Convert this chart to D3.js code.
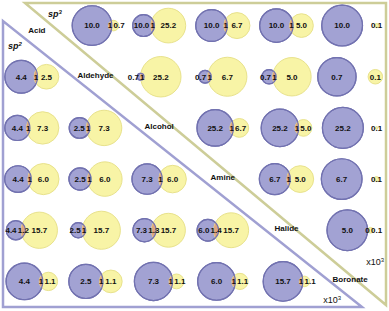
<!DOCTYPE html>
<html>
<head>
<meta charset="utf-8">
<script src="https://d3js.org/d3.v7.min.js"></script>
<style>
    body { margin: 0; background: #fff; }
    svg text {
        font-family: "Liberation Sans", Arial, sans-serif;
        font-weight: bold;
        font-size: 8px;
        fill: #111;
    }
</style>
</head>
<body>
<svg></svg>
<script>
    // data (x10^3)
    var categories = ['Acid', 'Aldehyde', 'Alcohol', 'Amine', 'Halide', 'Boronate'];
    var sp3Counts = [10.0, 0.7, 25.2, 6.7, 5.0, 0.1];
    var sp2Counts = [4.4, 2.5, 7.3, 6.0, 15.7, 1.1];
    // shared counts: sp3 upper triangle by row, sp2 lower triangle by row
    var sp3Overlap = [[1, 1, 1, 1, null], [1, 1, 1, null], [1, 1, null], [1, null], [0]];
    var sp2Overlap = [[1], [1, 1], [1, 1, 1], [1.2, 1, 1.3, 1.4], [1, 1, 1, 1, 1]];

    var width = 389, height = 311;
    var R = 20.5;
    var colors = {
        blue: '#a2a2d3', blueLine: '#7272b0',
        yellow: '#f8f4a6', yellowLine: '#e8e28c',
        lens: '#dfa67e',
        sp2: '#a0a0d2', sp3: '#cdcd98'
    };

    var svg = d3.select('svg')
        .attr('width', width)
        .attr('height', height);

    var x = d3.scaleBand().domain(categories).range([0, 382]);
    var y = d3.scaleBand().domain(categories).range([0, 307]);
    var cx = function (c) { return x(c) + x.bandwidth() / 2; };
    var cy = function (c) { return y(c) + y.bandwidth() / 2; };

    // triangles
    var line = d3.line();
    svg.append('path')
        .attr('d', line([[25, 3], [386, 3], [386, 305]]) + 'Z')
        .attr('fill', 'none')
        .attr('stroke', colors.sp3)
        .attr('stroke-width', 2.5);
    svg.append('path')
        .attr('d', line([[3, 21], [3, 307], [362, 307]]) + 'Z')
        .attr('fill', 'none')
        .attr('stroke', colors.sp2)
        .attr('stroke-width', 2.5);

    // cells
    var cells = [];
    categories.forEach(function (a, i) {
        categories.forEach(function (b, j) {
            if (j <= i) return;
            cells.push({ row: a, col: b, left: sp3Counts[i], right: sp3Counts[j], overlap: sp3Overlap[i][j - i - 1], id: 'u' + i + j });
            cells.push({ row: b, col: a, left: sp2Counts[i], right: sp2Counts[j], overlap: sp2Overlap[j - 1][i], id: 'l' + i + j });
        });
    });

    cells.forEach(function (d) {
        var r = d3.scaleSqrt().domain([0, d.left + d.right]).range([0, R]);
        var r1 = r(d.left), r2 = r(d.right);
        var w = d.overlap == null ? -12 : 3.5 * d.overlap;
        var total = 2 * r1 + 2 * r2 - w;
        var c1 = -total / 2 + r1;
        var c2 = c1 + r1 + r2 - w;
        var lx = c1 + r1 - w / 2;

        var g = svg.append('g')
            .attr('transform', 'translate(' + cx(d.col) + ',' + cy(d.row) + ')');

        g.append('clipPath').attr('id', 'clip-' + d.id)
            .append('circle').attr('cx', c1).attr('r', r1);

        g.append('circle').attr('cx', c1).attr('r', r1)
            .attr('fill', colors.blue).attr('stroke', colors.blueLine).attr('stroke-width', 1.2);
        g.append('circle').attr('cx', c2).attr('r', r2)
            .attr('fill', colors.yellow).attr('stroke', colors.yellowLine).attr('stroke-width', 1);
        // shared part
        g.append('circle').attr('cx', c2).attr('r', r2)
            .attr('fill', colors.lens)
            .attr('clip-path', 'url(#clip-' + d.id + ')');
        g.append('circle').attr('cx', c1).attr('r', r1)
            .attr('fill', 'none').attr('stroke', colors.blueLine).attr('stroke-width', 1.2);

        var lw = 0;
        if (d.overlap != null) {
            var lt = g.append('text')
                .attr('x', lx).attr('dy', '0.35em')
                .attr('text-anchor', 'middle')
                .text(d.overlap === 1 || d.overlap === 0 ? d.overlap : d.overlap.toFixed(1));
            lw = lt.node().getComputedTextLength();
        }

        var t1 = g.append('text').attr('dy', '0.35em').attr('text-anchor', 'middle')
            .text(d.left.toFixed(1));
        var tw1 = t1.node().getComputedTextLength();
        t1.attr('x', d.overlap != null ? Math.min(c1, lx - lw / 2 - 1.2 - tw1 / 2) : c1);

        var t2 = g.append('text').attr('dy', '0.35em').attr('text-anchor', 'middle')
            .text(d.right.toFixed(1));
        var tw2 = t2.node().getComputedTextLength();
        t2.attr('x', d.overlap != null ? Math.max(c2, lx + lw / 2 + 1.2 + tw2 / 2) : c2);
    });

    // diagonal labels
    svg.selectAll('.cat')
        .data(categories)
        .enter().append('text')
            .attr('class', 'cat')
            .attr('x', function (d, i) { return cx(d) + (i === 0 ? 5 : 0); })
            .attr('y', function (d, i) { return cy(d) + (i === 0 ? 5 : -2); })
            .attr('dy', '0.35em')
            .attr('text-anchor', 'middle')
            .text(function (d) { return d; });

    // sp labels
    [{ t: '3', x: 48, y: 17 }, { t: '2', x: 8, y: 49 }].forEach(function (s) {
        var t = svg.append('text')
            .attr('x', s.x).attr('y', s.y)
            .style('font-size', '9px')
            .style('font-style', 'italic');
        t.append('tspan').text('sp');
        t.append('tspan').attr('dy', -3.5).style('font-size', '6px').text(s.t);
    });

    // units
    [[384, 265], [341, 303]].forEach(function (p) {
        var t = svg.append('text')
            .attr('x', p[0]).attr('y', p[1])
            .attr('text-anchor', 'end')
            .style('font-weight', 'normal')
            .style('font-size', '9px');
        t.append('tspan').text('x10');
        t.append('tspan').attr('dy', -3.5).style('font-size', '6px').text('3');
    });
</script>
</body>
</html>
